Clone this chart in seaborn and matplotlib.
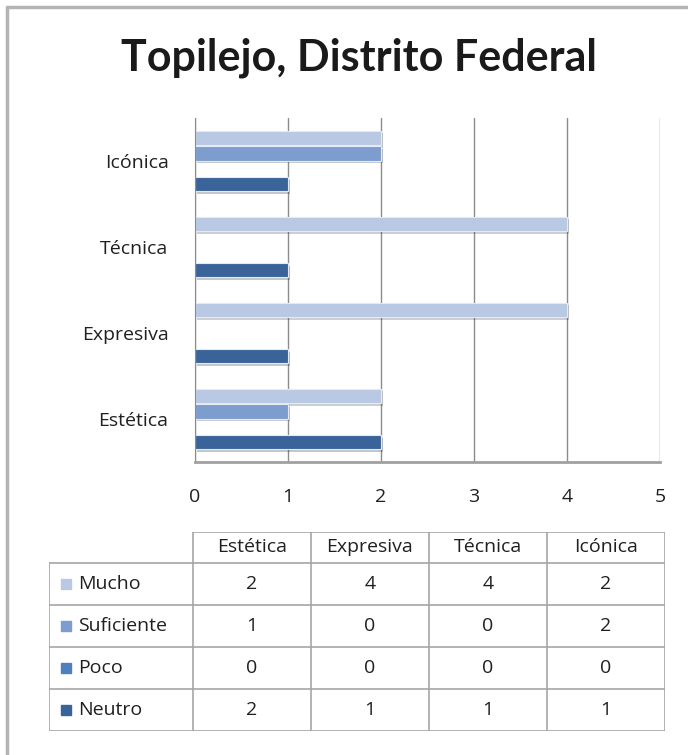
import seaborn as sns
import matplotlib.pyplot as plt
import matplotlib.patheffects as pe
from matplotlib.lines import Line2D
from matplotlib.patches import Rectangle
import pandas as pd

# data
categories = ['Estética', 'Expresiva', 'Técnica', 'Icónica']
series = ['Mucho', 'Suficiente', 'Poco', 'Neutro']
mucho = [2, 4, 4, 2]
suficiente = [1, 0, 0, 2]
poco = [0, 0, 0, 0]
neutro = [2, 1, 1, 1]
colors = ['#B9C9E3', '#7C9DCE', '#4F7FBE', '#3A6399']
title = 'Topilejo, Distrito Federal'

values = {'Mucho': mucho, 'Suficiente': suficiente, 'Poco': poco, 'Neutro': neutro}
rows = []
for s in series:
    for c, v in zip(categories, values[s]):
        rows.append({'cat': c, 'serie': s, 'valor': v})
df = pd.DataFrame(rows)

sns.set_style('white')
plt.rcParams['font.family'] = ['Open Sans', 'DejaVu Sans']
W, H = 688, 755
fig = plt.figure(figsize=(W / 100, H / 100), dpi=100)

# outer frame
fig.add_artist(Line2D([7 / W, 7 / W], [0, 1 - 7 / H], color='#B4B4B4', lw=2.5))
fig.add_artist(Line2D([7 / W, 1], [1 - 7 / H, 1 - 7 / H], color='#B4B4B4', lw=2.5))

fig.text(359 / W, 1 - 58 / H, title, ha='center', va='center', family=['Lato', 'DejaVu Sans'],
         fontsize=31, fontweight='bold', color='#1A1A1A')

ax = fig.add_axes([195 / W, 1 - 462 / H, 465 / W, 344 / H])
sns.barplot(data=df, y='cat', x='valor', hue='serie', order=categories[::-1],
            hue_order=series, palette=colors, saturation=1, orient='h', width=0.72, gap=0.06,
            edgecolor='#E3EAF4', linewidth=0.8, legend=False, ax=ax)
for p in ax.patches:
    p.set_path_effects([pe.SimplePatchShadow(offset=(1.5, -2), alpha=0.25), pe.Normal()])

ax.set_xlim(0, 5)
ax.set_ylim(3.5, -0.5)
ax.set_xticks(range(6))
ax.grid(axis='x', color='#8C8C8C', lw=1)
ax.set_axisbelow(True)
ax.set_xlabel('')
ax.set_ylabel('')
for side in ['top', 'right']:
    ax.spines[side].set_visible(False)
ax.spines['left'].set_color('#8C8C8C')
ax.spines['bottom'].set_color('#A0A0A0')
ax.spines['bottom'].set_linewidth(2)
ax.tick_params(axis='x', labelsize=14, pad=15, length=4, color='#8C8C8C', labelcolor='#202020')
ax.tick_params(axis='y', labelsize=14, pad=19, length=0, labelcolor='#202020')

# data table below
tax = fig.add_axes([49 / W, 1 - 731 / H, 616 / W, 199 / H])
lab_w = 144 / 118
head_h = 31 / 42
tax.set_xlim(-lab_w, len(categories))
tax.set_ylim(len(series), -head_h)
tax.axis('off')
lc = '#A6A6A6'
# horizontal lines
tax.plot([0, len(categories)], [-head_h, -head_h], color=lc, lw=1.2)
for i in range(len(series) + 1):
    tax.plot([-lab_w, len(categories)], [i, i], color=lc, lw=1.2)
# vertical lines
tax.plot([-lab_w, -lab_w], [0, len(series)], color=lc, lw=1.2)
for j in range(len(categories) + 1):
    tax.plot([j, j], [-head_h, len(series)], color=lc, lw=1.2)

for j, c in enumerate(categories):
    tax.text(j + 0.5, -head_h / 2, c, ha='center', va='center', fontsize=14, color='#202020')
for i, s in enumerate(series):
    tax.add_patch(Rectangle((-lab_w + 0.10, i + 0.38), 0.085, 0.24, color=colors[i]))
    tax.text(-lab_w + 0.25, i + 0.5, s, ha='left', va='center', fontsize=14, color='#202020')
    for j, v in enumerate(values[s]):
        tax.text(j + 0.5, i + 0.5, str(v), ha='center', va='center', fontsize=14, color='#202020')

fig.savefig('out.png', dpi=100)
